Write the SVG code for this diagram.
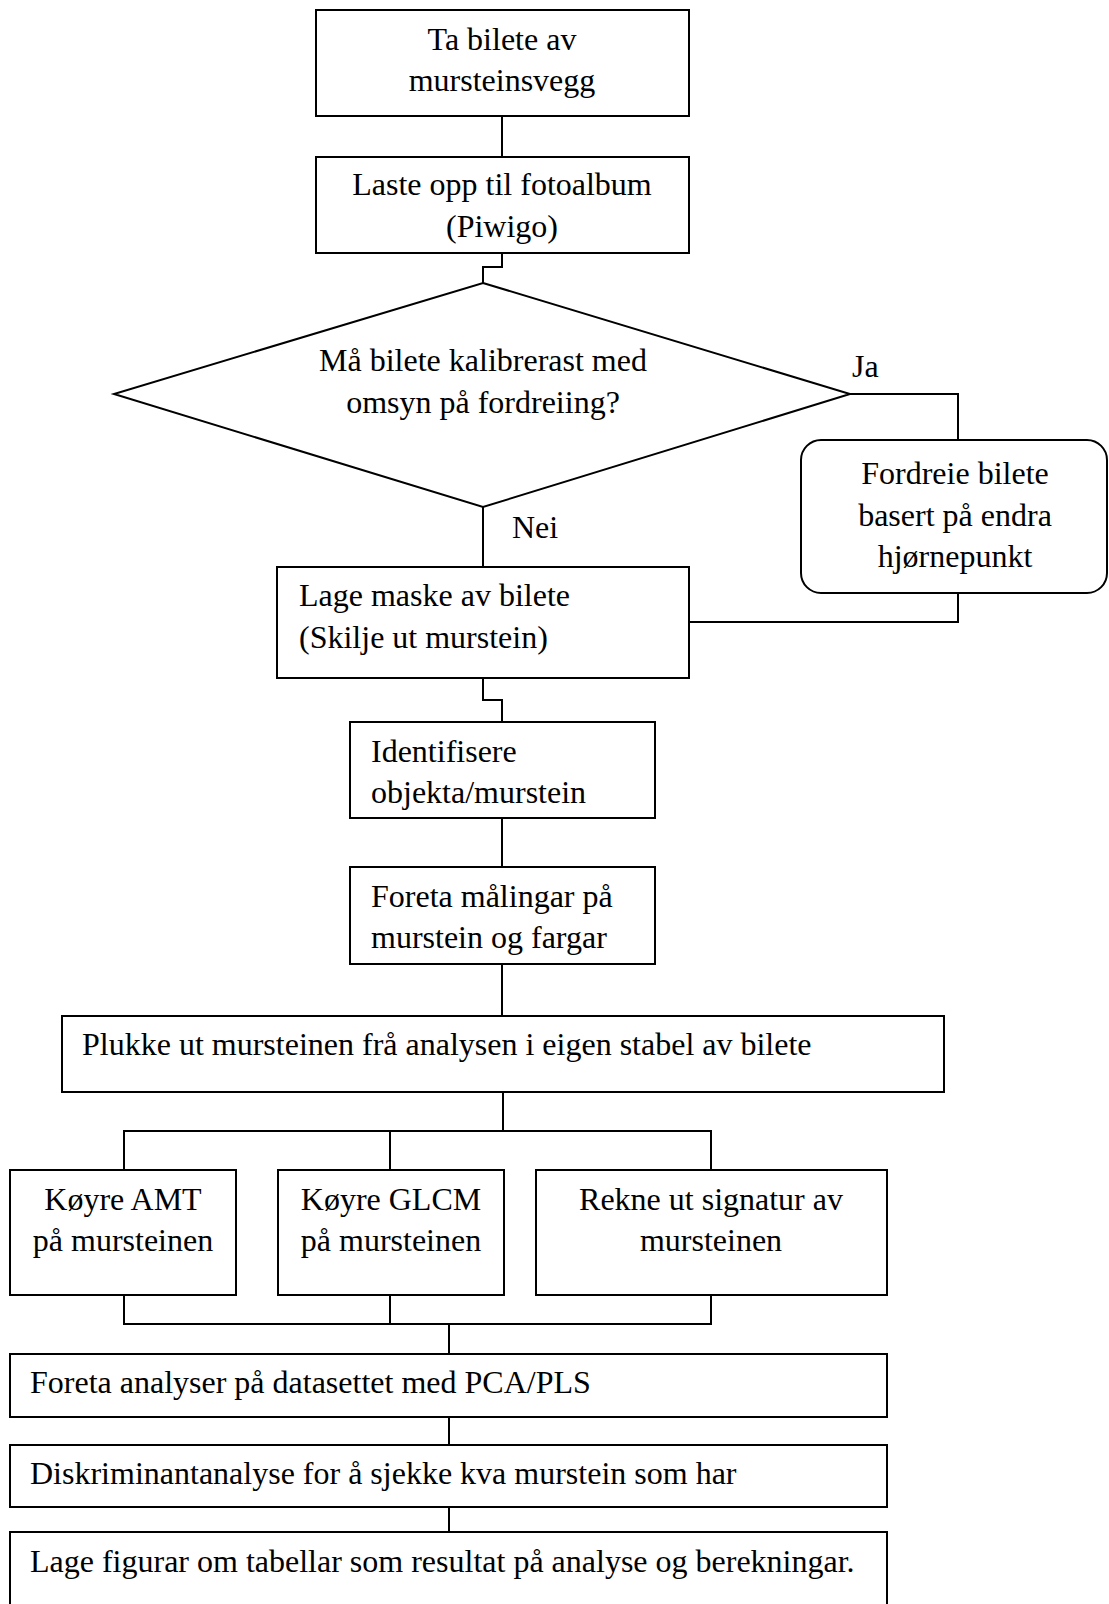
<svg xmlns="http://www.w3.org/2000/svg" width="1109" height="1604" viewBox="0 0 1109 1604">
<style>
.n{fill:#fff;stroke:#000;stroke-width:2}
.c{fill:none;stroke:#000;stroke-width:2}
text{font-family:"Liberation Serif","Times New Roman",serif;font-size:32px;fill:#000}
.m{text-anchor:middle}
</style>
<rect width="1109" height="1604" fill="#fff"/>
<g id="connectors">
<path class="c" d="M502 116V157"/>
<path class="c" d="M502 253V267H483V283"/>
<path class="c" d="M850 394H958V440"/>
<path class="c" d="M483 507V567"/>
<path class="c" d="M958 593V622H689"/>
<path class="c" d="M483 678V700H502V722"/>
<path class="c" d="M502 818V867"/>
<path class="c" d="M502 964V1016"/>
<path class="c" d="M503 1092V1131"/>
<path class="c" d="M124 1170V1131H711V1170M390 1131V1170"/>
<path class="c" d="M124 1295V1324H711V1295M390 1295V1324M449 1324V1354"/>
<path class="c" d="M449 1417V1445"/>
<path class="c" d="M449 1507V1532"/>
</g>
<g id="n1"><rect class="n" x="316" y="10" width="373" height="106"/><text class="m" x="502" y="50">Ta bilete av</text><text class="m" x="502" y="91">mursteinsvegg</text></g>
<g id="n2"><rect class="n" x="316" y="157" width="373" height="96"/><text class="m" x="502" y="195">Laste opp til fotoalbum</text><text class="m" x="502" y="237">(Piwigo)</text></g>
<g id="n3"><polygon class="n" points="483,283 850,394 483,507 114,394"/><text class="m" x="483" y="371">Må bilete kalibrerast med</text><text class="m" x="483" y="413">omsyn på fordreiing?</text></g>
<g id="lbl"><text x="852" y="377">Ja</text><text x="512" y="538">Nei</text></g>
<g id="n4"><rect class="n" x="801" y="440" width="306" height="153" rx="20"/><text class="m" x="955" y="484">Fordreie bilete</text><text class="m" x="955" y="526">basert på endra</text><text class="m" x="955" y="567">hjørnepunkt</text></g>
<g id="n5"><rect class="n" x="277" y="567" width="412" height="111"/><text x="299" y="606">Lage maske av bilete</text><text x="299" y="648">(Skilje ut murstein)</text></g>
<g id="n6"><rect class="n" x="350" y="722" width="305" height="96"/><text x="371" y="762">Identifisere</text><text x="371" y="803">objekta/murstein</text></g>
<g id="n7"><rect class="n" x="350" y="867" width="305" height="97"/><text x="371" y="907">Foreta målingar på</text><text x="371" y="948">murstein og fargar</text></g>
<g id="n8"><rect class="n" x="62" y="1016" width="882" height="76"/><text x="82" y="1055">Plukke ut mursteinen frå analysen i eigen stabel av bilete</text></g>
<g id="n9"><rect class="n" x="10" y="1170" width="226" height="125"/><text class="m" x="123" y="1210">Køyre AMT</text><text class="m" x="123" y="1251">på mursteinen</text></g>
<g id="n10"><rect class="n" x="278" y="1170" width="226" height="125"/><text class="m" x="391" y="1210">Køyre GLCM</text><text class="m" x="391" y="1251">på mursteinen</text></g>
<g id="n11"><rect class="n" x="536" y="1170" width="351" height="125"/><text class="m" x="711" y="1210">Rekne ut signatur av</text><text class="m" x="711" y="1251">mursteinen</text></g>
<g id="n12"><rect class="n" x="10" y="1354" width="877" height="63"/><text x="30" y="1393">Foreta analyser på datasettet med PCA/PLS</text></g>
<g id="n13"><rect class="n" x="10" y="1445" width="877" height="62"/><text x="30" y="1484">Diskriminantanalyse for å sjekke kva murstein som har</text></g>
<g id="n14"><rect class="n" x="10" y="1532" width="877" height="90"/><text x="30" y="1572">Lage figurar om tabellar som resultat på analyse og berekningar.</text></g>
</svg>
